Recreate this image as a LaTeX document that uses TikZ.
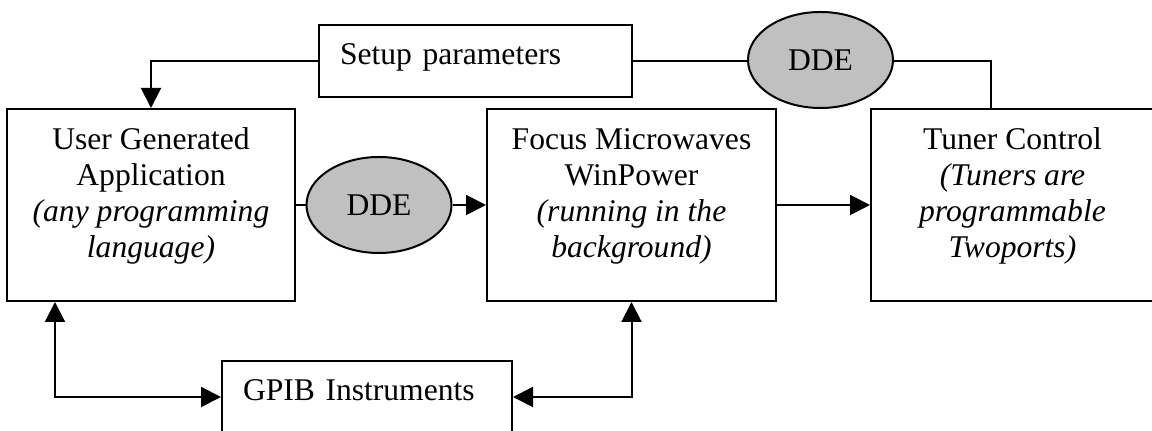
\documentclass[tikz,border=0pt]{standalone}
\usepackage{fontspec}
\setmainfont{Liberation Serif}
\usepackage{tikz}
\usetikzlibrary{arrows.meta,shapes.geometric,positioning}
\definecolor{ddegray}{RGB}{192,192,192}
\newcommand{\padlow}{\rule[-12pt]{0pt}{0pt}}

\begin{document}
\begin{tikzpicture}[x=0.5pt, y=-0.5pt,
    every node/.style={font=\fontsize{15.8}{18}\selectfont},
    box/.style={draw, line width=1pt, rectangle, align=center, inner sep=0pt, minimum height=96pt},
    flat/.style={draw, line width=1pt, rectangle, align=left, inner xsep=10.5pt, inner ysep=0pt,
        text height=7.5pt, text depth=3.5pt, minimum height=36pt},
    dde/.style={draw, line width=1pt, ellipse, fill=ddegray, inner sep=0pt, minimum width=72.5pt, minimum height=48pt},
    wire/.style={line width=1pt},
    arr/.style={line width=1pt, -{Triangle[length=10pt, width=10pt]}},
    both/.style={line width=1pt, {Triangle[length=10pt, width=10pt]}-{Triangle[length=10pt, width=10pt]}}]
    \useasboundingbox (0,0) rectangle (1152,431);
    \node[box, minimum width=144pt] (user) at (151,205) {User Generated\\Application\\\textit{(any programming}\\\textit{language)}\padlow};
    \node[box, minimum width=144.5pt] (focus) at (631.5,205) {Focus Microwaves\\WinPower\\\textit{(running in the}\\\textit{background)}\padlow};
    \node[box, minimum width=141.5pt] (tuner) at (1012.5,205) {Tuner Control\\\textit{(Tuners are}\\\textit{programmable}\\\textit{Twoports)}\padlow};
    \node[flat, text width=135.5pt] (setup) at (475.5,61) {Setup parameters};
    \node[flat, text width=124pt] (gpib) at (367,397) {GPIB Instruments};
    \node[dde] (ddetop) at (820.5,60) {DDE};
    \node[dde] (ddemid) at (379,205) {DDE};
    \draw[arr] (setup.west) -| (user.north);
    \draw[wire] (setup.east) -- (setup.east -| ddetop.west);
    \draw[wire] (ddetop.east |- setup.east) -| ([xshift=-10.75pt]tuner.north);
    \draw[wire] (user.east) -- (ddemid.west);
    \draw[arr] (ddemid.east) -- (focus.west);
    \draw[arr] (focus.east) -- (tuner.west);
    \draw[both] ([xshift=-48pt]user.south) |- (gpib.west);
    \draw[both] (focus.south) |- (gpib.east);
\end{tikzpicture}
\end{document}
